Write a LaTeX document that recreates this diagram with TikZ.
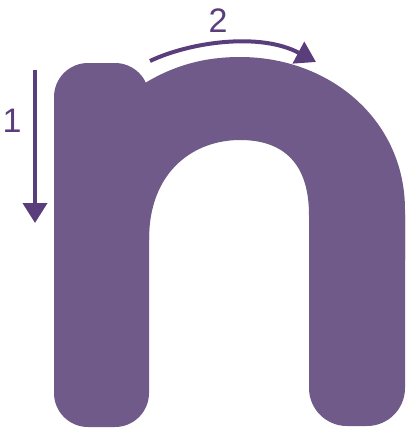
\documentclass[tikz,border=0pt]{standalone}
\usepackage{fontspec}
\setmainfont{Liberation Sans}
\usetikzlibrary{arrows.meta}

\definecolor{letterfill}{RGB}{112,90,138}
\definecolor{strokearrow}{RGB}{90,62,124}

\begin{document}
\begin{tikzpicture}[
  x=1pt, y=-1pt,
  glyph/.style={fill=letterfill},
  strokearr/.style={-{Triangle[length=20pt, width=24pt]}, line width=4pt,
    strokearrow},
  numlabel/.style={text=strokearrow, font=\fontsize{34}{34}\selectfont,
    inner sep=0pt},
]
\useasboundingbox (0,0) rectangle (408,432);

% --- Letter n: left stem ---
\fill[glyph, rounded corners=34pt]
  (54,427) -- (54,63) -- (149,63) -- (149,427) -- cycle;

% --- Letter n: arch ---
\fill[glyph]
  (145,83) .. controls (175,65) and (205,57) .. (240,57)
  .. controls (330,57) and (405,120) .. (405,210)
  -- (405,260) -- (309,260) -- (309,215)
  .. controls (309,165) and (285,140) .. (240,140)
  .. controls (195,140) and (149,170) .. (149,240)
  -- (140,240) -- cycle;

% --- Letter n: right stem ---
\fill[glyph, rounded corners=38pt]
  (309,215) -- (309,426) -- (405,426) -- (405,215);

% --- Stroke order arrows ---
\coordinate (s1start) at (35,70);
\coordinate (s1end) at (35,223);
\coordinate (s2start) at (150,61);
\coordinate (s2end) at (316,62);

\draw[strokearr] (s1start) -- (s1end);
\draw[strokearr] (s2start) .. controls (190,42) and (260,32) .. (s2end);

% --- Stroke numbers ---
\node[numlabel] (num1) at (12,121) {1};
\node[numlabel] (num2) at (218,21) {2};

\end{tikzpicture}
\end{document}
